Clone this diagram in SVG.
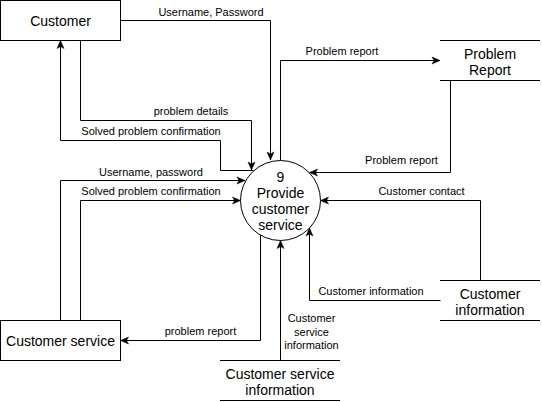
<svg xmlns="http://www.w3.org/2000/svg" width="542" height="402" viewBox="0 0 542 402">
<style>
.bg{fill:#ffffff}
.box{fill:#ffffff;stroke:#000000;stroke-width:1}
.store{stroke:#000000;stroke-width:1;fill:none}
.edge{fill:none;stroke:#000000;stroke-width:1;marker-end:url(#arr)}
.edge2{fill:none;stroke:#000000;stroke-width:1}
.nt{font-family:"Liberation Sans",Arial,sans-serif;font-size:14px;fill:#000000;text-anchor:middle}
.lt{font-family:"Liberation Sans",Arial,sans-serif;font-size:11px;fill:#000000;text-anchor:middle}
</style>
<defs>
<marker id="arr" markerWidth="10" markerHeight="10" refX="9" refY="5" orient="auto" markerUnits="userSpaceOnUse">
<path d="M1,1.5 L9,5 L1,8.5 L3,5 z" fill="#000000" stroke="#000000" stroke-width="0.5"/>
</marker>
</defs>
<rect class="bg" x="0" y="0" width="542" height="402"/>
<g id="connectors">
<path class="edge" d="M120.5,20.5 H270.5 V160"/>
<text class="lt" x="211" y="16">Username, Password</text>
<path class="edge" d="M280.5,160.5 V60.5 H440"/>
<text class="lt" x="342" y="55">Problem report</text>
<path class="edge" d="M450.5,80.5 V172.5 H309.5"/>
<text class="lt" x="401.5" y="164">Problem report</text>
<path class="edge" d="M480.5,280.5 V200.5 H320.5"/>
<text class="lt" x="421.5" y="195">Customer contact</text>
<path class="edge" d="M440.5,300.5 H309.5 V228"/>
<text class="lt" x="371" y="294.5">Customer information</text>
<path class="edge" d="M280.5,360.5 V240.5"/>
<text class="lt" x="311.5" y="322">Customer</text>
<text class="lt" x="311.5" y="335.5">service</text>
<text class="lt" x="311.5" y="349">information</text>
<path class="edge" d="M260.5,235 V340.5 H120.5"/>
<text class="lt" x="200.5" y="335">problem report</text>
<path class="edge" d="M60.5,320.5 V180.5 H245"/>
<text class="lt" x="151" y="175.5">Username, password</text>
<path class="edge" d="M80.5,320.5 V200.5 H240.5"/>
<text class="lt" x="151" y="195">Solved problem confirmation</text>
<path class="edge" d="M80.5,40.5 V120.5 H251.5 V170"/>
<text class="lt" x="191" y="115">problem details</text>
<path class="edge" d="M253.5,170.5 H220.5 V140.5 H60.5 V40.5"/>
<text class="lt" x="151" y="135">Solved problem confirmation</text>
</g>
<g id="customer">
<rect class="box" x="0.5" y="0.5" width="120" height="40"/>
<text class="nt" x="60.5" y="26">Customer</text>
</g>
<g id="customer-service">
<rect class="box" x="0.5" y="320.5" width="120" height="40"/>
<text class="nt" x="60.5" y="346">Customer service</text>
</g>
<g id="process-9">
<circle class="box" cx="280.5" cy="200.5" r="40"/>
<text class="nt" x="280.5" y="182">9</text>
<text class="nt" x="280.5" y="198">Provide</text>
<text class="nt" x="280.5" y="214">customer</text>
<text class="nt" x="280.5" y="230">service</text>
</g>
<g id="problem-report-store">
<path class="store" d="M440,40.5 H540 M440,80.5 H540"/>
<text class="nt" x="490" y="58.5">Problem</text>
<text class="nt" x="490" y="75">Report</text>
</g>
<g id="customer-information-store">
<path class="store" d="M440,280.5 H540 M440,320.5 H540"/>
<text class="nt" x="490" y="298.5">Customer</text>
<text class="nt" x="490" y="315">information</text>
</g>
<g id="customer-service-information-store">
<path class="store" d="M220,360.5 H340 M220,400.5 H340"/>
<text class="nt" x="280" y="378.5">Customer service</text>
<text class="nt" x="280" y="395">information</text>
</g>
</svg>
